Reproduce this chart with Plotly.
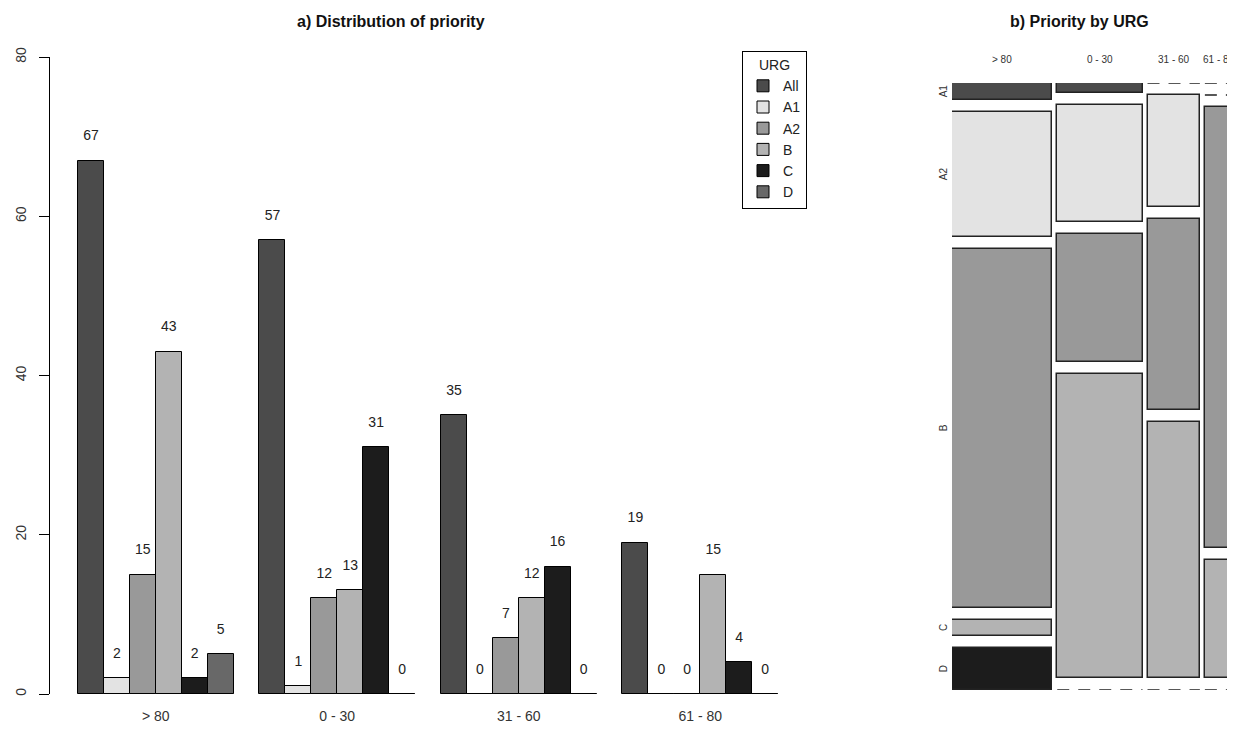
import plotly.graph_objects as go

# ---------------- data ----------------
groups = ["> 80", "0 - 30", "31 - 60", "61 - 80"]
urg = ["All", "A1", "A2", "B", "C", "D"]
all_v = [67, 57, 35, 19]
a1 = [2, 1, 0, 0]
a2 = [15, 12, 7, 0]
b = [43, 13, 12, 15]
c = [2, 31, 16, 4]
d = [5, 0, 0, 0]
y_ticks = [0, 20, 40, 60, 80]

series = [all_v, a1, a2, b, c, d]
colors = ["#4b4b4b", "#e3e3e3", "#999999", "#b3b3b3", "#1c1c1c", "#686868"]

# page is offset by the default 8px body margin
OFF = 8
FW, FH = 1227, 722
FONT = "Liberation Sans, Arial, sans-serif"


def px(p):
    return (p - OFF) / FW


def py(p):
    return 1 - (p - OFF) / FH


fig = go.Figure()

# ---------------- a) grouped bar chart ----------------
nser = len(series)
step = nser + 1  # one empty slot between groups


def bar_x(g, i):
    return 1 + step * g + i + 0.5


for i, (name, vals) in enumerate(zip(urg, series)):
    fig.add_trace(go.Bar(
        x=[bar_x(g, i) for g in range(len(groups))],
        y=vals, width=1, name=name,
        marker=dict(color=colors[i], line=dict(color="black", width=1)),
        xaxis="x", yaxis="y", showlegend=True,
    ))

# value labels
tx, ty, tt = [], [], []
for i, vals in enumerate(series):
    for g, v in enumerate(vals):
        tx.append(bar_x(g, i))
        ty.append(v + 3)
        tt.append(str(v))
fig.add_trace(go.Scatter(
    x=tx, y=ty, text=tt, mode="text", showlegend=False,
    textfont=dict(family=FONT, size=14, color="#222"),
    xaxis="x", yaxis="y", hoverinfo="skip",
))

shapes = []
# baseline under each group
for g in range(len(groups)):
    shapes.append(dict(type="line", xref="x", yref="y",
                       x0=1 + step * g, x1=1 + step * g + nser, y0=0, y1=0,
                       line=dict(color="black", width=1)))

# ---------------- b) mosaic plot ----------------
rows = urg[1:]
cell_counts = series[1:]           # rows x columns
col_totals = all_v
mosaic_colors = colors[:5]
gx = 5.0 / 281.3
gy = 11.9 / 607.0
ncol = len(groups)
nrow = len(rows)
grand = sum(col_totals)

col_w = [(1 - (ncol - 1) * gx) * t / grand for t in col_totals]
col_left = []
pos = 0.0
for w in col_w:
    col_left.append(pos)
    pos += w + gx
col_center = [l + w / 2 for l, w in zip(col_left, col_w)]

# vertical geometry (top-down)
cell_top = [[0.0] * ncol for _ in range(nrow)]
cell_h = [[0.0] * ncol for _ in range(nrow)]
for j in range(ncol):
    top = 1.0
    for r in range(nrow):
        h = (1 - (nrow - 1) * gy) * cell_counts[r][j] / col_totals[j]
        cell_top[r][j] = top
        cell_h[r][j] = h
        top = top - h - gy

for r in range(nrow):
    xs, ws, bs, hs = [], [], [], []
    for j in range(ncol):
        if cell_counts[r][j] > 0:
            xs.append(col_center[j])
            ws.append(col_w[j])
            bs.append(cell_top[r][j] - cell_h[r][j])
            hs.append(cell_h[r][j])
        else:
            shapes.append(dict(type="line", xref="x2", yref="y2",
                               x0=col_left[j], x1=col_left[j] + col_w[j],
                               y0=cell_top[r][j], y1=cell_top[r][j],
                               line=dict(color="#222", width=1.5, dash="12px,9px")))
    fig.add_trace(go.Bar(
        x=xs, y=hs, base=bs, width=ws, showlegend=False, name=rows[r],
        marker=dict(color=mosaic_colors[r], line=dict(color="#222", width=1.5)),
        xaxis="x2", yaxis="y2",
    ))

annotations = []
# column labels
for j, gname in enumerate(groups):
    annotations.append(dict(text=gname, xref="x2", yref="paper",
                            x=col_center[j], y=py(60), showarrow=False,
                            font=dict(family=FONT, size=10, color="#333"),
                            xanchor="center", yanchor="middle"))
# row labels (centres of first column)
for r, rname in enumerate(rows):
    annotations.append(dict(text=rname, xref="paper", yref="y2",
                            x=px(943), y=cell_top[r][0] - cell_h[r][0] / 2,
                            showarrow=False, textangle=-90,
                            font=dict(family=FONT, size=10, color="#333"),
                            xanchor="center", yanchor="middle"))
# titles
annotations.append(dict(text="<b>a) Distribution of priority</b>", xref="paper", yref="paper",
                        x=px(391), y=py(21), showarrow=False,
                        font=dict(family=FONT, size=16, color="#111"),
                        xanchor="center", yanchor="middle"))
annotations.append(dict(text="<b>b) Priority by URG</b>", xref="paper", yref="paper",
                        x=px(1079), y=py(21), showarrow=False,
                        font=dict(family=FONT, size=16, color="#111"),
                        xanchor="center", yanchor="middle"))

fig.update_layout(
    width=FW, height=FH,
    margin=dict(l=0, r=0, t=0, b=0, autoexpand=False),
    paper_bgcolor="white", plot_bgcolor="white",
    barmode="overlay", bargap=0,
    font=dict(family=FONT, size=14, color="#222"),
    xaxis=dict(domain=[px(50), px(806)], range=[-0.08, 29.08],
               tickvals=[1 + step * g + nser / 2 for g in range(len(groups))],
               ticktext=groups, ticks="outside", ticklen=9,
               tickcolor="rgba(0,0,0,0)", showline=False, showgrid=False,
               zeroline=False, automargin=False,
               tickfont=dict(family=FONT, size=14, color="#333")),
    yaxis=dict(domain=[py(694), py(57)], range=[0, 80], tickvals=y_ticks,
               ticks="outside", ticklen=10, tickcolor="black", tickangle=-90,
               ticklabelstandoff=7,
               showline=True, linecolor="black", linewidth=1,
               showgrid=False, zeroline=False, automargin=False,
               tickfont=dict(family=FONT, size=14, color="#333")),
    xaxis2=dict(domain=[px(952), px(1233.3)], range=[0, 1], visible=False,
                automargin=False),
    yaxis2=dict(domain=[py(690), py(83)], range=[0, 1], visible=False,
                automargin=False),
    legend=dict(x=px(807), y=py(51), xanchor="right", yanchor="top",
                bordercolor="black", borderwidth=1, bgcolor="white",
                font=dict(family=FONT, size=14, color="#222"),
                title=dict(text="URG", side="top center",
                           font=dict(family=FONT, size=14, color="#222")),
                entrywidth=34, traceorder="normal"),
    shapes=shapes,
    annotations=annotations,
)

fig.write_html("out.html")
